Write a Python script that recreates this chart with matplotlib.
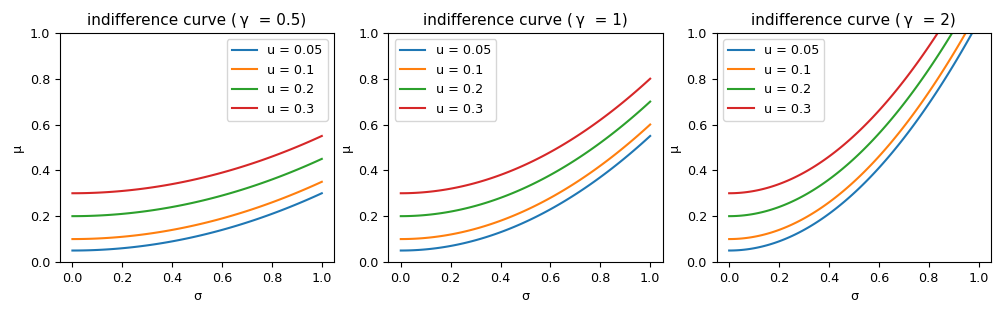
import matplotlib.pyplot as plt
import numpy as np

plt.rcParams['font.family'] = ['DejaVu Sans', 'Noto Sans CJK JP']
plt.rcParams['font.size'] = 9.2
plt.rcParams['axes.titlesize'] = 11

# risk aversion per panel and utility levels per curve
gammas = [0.5, 1, 2]
gamma_labels = ['0.5', '1', '2']
utilities = [0.05, 0.1, 0.2, 0.3]
legend_locs = ['upper right', 'upper left', 'upper left']

sigma = np.linspace(0, 1, 100)

fig, axes = plt.subplots(1, 3, figsize=(9.99, 3.13), dpi=100)
for ax, g, gl, loc in zip(axes, gammas, gamma_labels, legend_locs):
    for u in utilities:
        # indifference curve: mu = u + gamma/2 * sigma^2
        ax.plot(sigma, u + g / 2 * sigma ** 2, label='u = {}'.format(u))
    ax.set_ylim(0, 1)
    ax.set_title('indifference curve (\u2009γ  = {})'.format(gl))
    ax.set_xlabel('σ')
    ax.set_ylabel('μ')
    ax.legend(loc=loc)

plt.subplots_adjust(left=0.06, right=0.992, bottom=0.163, top=0.895, wspace=0.197)
plt.savefig('out.png')
